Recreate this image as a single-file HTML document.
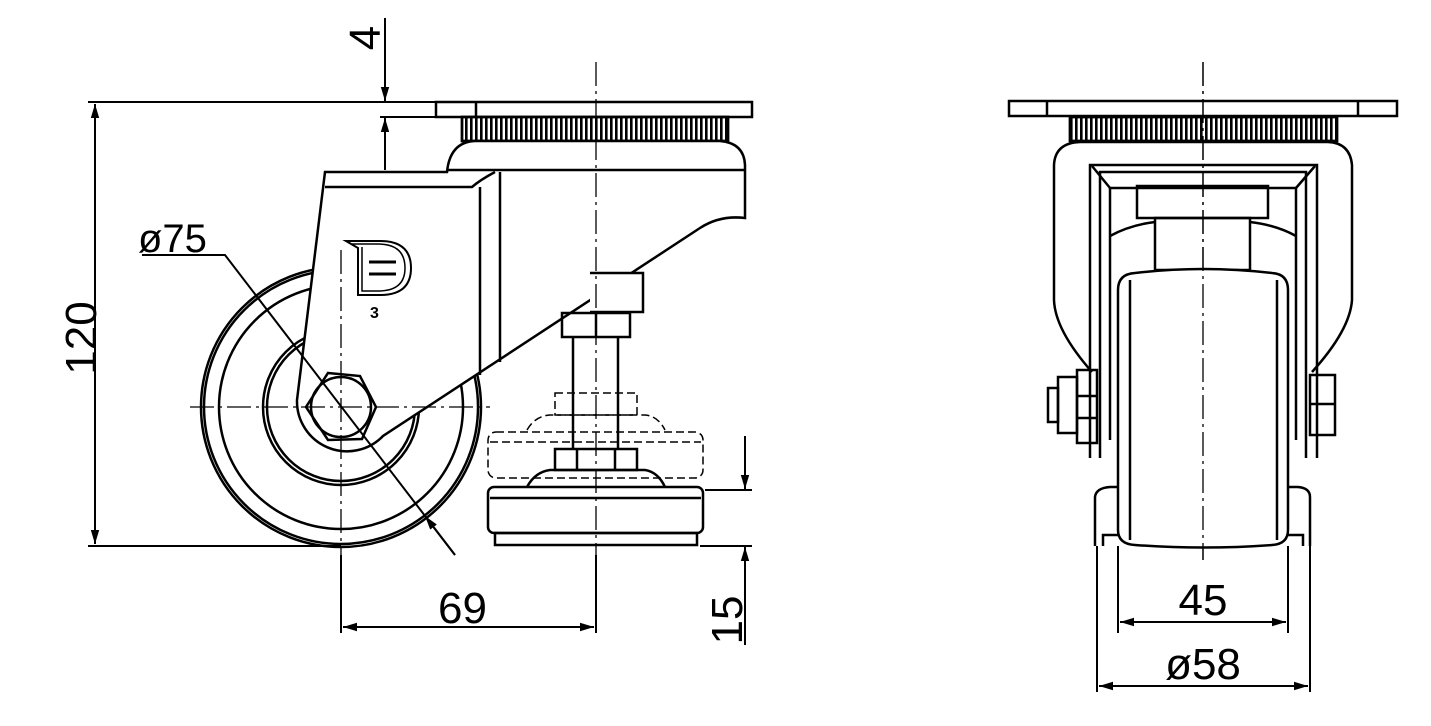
<!DOCTYPE html>
<html><head><meta charset="utf-8"><style>
html,body{margin:0;padding:0;background:#fff}
svg{display:block}
text{font-family:"Liberation Sans",sans-serif;font-size:44px;fill:#000}
</style></head><body>
<svg width="1431" height="726" viewBox="0 0 1431 726" xmlns="http://www.w3.org/2000/svg">
<defs>
<pattern id="kn" width="5" height="30" patternUnits="userSpaceOnUse"><rect width="5" height="30" fill="#fff"/><rect width="2.6" height="30" fill="#000"/></pattern>
<marker id="ar" viewBox="0 0 10 10" refX="10" refY="5" markerWidth="14" markerHeight="14" markerUnits="userSpaceOnUse" orient="auto-start-reverse"><path d="M0,2 L10,5 L0,8 z" fill="#000"/></marker>
</defs>
<g fill="none" stroke="#000" stroke-width="2.5">
<!-- LEFT VIEW -->
<rect x="436" y="102" width="316" height="15"/>
<line x1="476" y1="102" x2="476" y2="117"/>
<rect x="462" y="117" width="266" height="24" fill="url(#kn)"/>
<rect x="462" y="117" width="266" height="24"/>
<!-- wheel -->
<circle cx="341" cy="407" r="140"/>
<circle cx="341" cy="407" r="137"/>
<circle cx="341" cy="407" r="122"/>
<circle cx="341" cy="407" r="78"/>
<circle cx="341" cy="407" r="74"/>
<!-- body (fork + housing), white filled to cover wheel -->
<path fill="#fff" d="M325,172 L447,172 Q450,142 475,141 L720,141 Q744,143 745,165 L745,218 Q720,215 700,228 L383,436 A50,50 0 0 1 297,400 Z"/>
<line x1="447" y1="170" x2="745" y2="170"/>
<path d="M590,273 L643,273 L643,312 L590,312" fill="#fff"/>
<path d="M325,187 L472,187 Q480,180 495,172"/>
<line x1="480" y1="187" x2="480" y2="375"/>
<line x1="500" y1="172" x2="500" y2="362"/>
<circle cx="341" cy="407" r="30"/>
<polygon points="328,373 360,376 376,407 362,439 328,440 306,407" fill="none"/>
<!-- logo -->
<path d="M346,241 L380,241 Q411,241 411,268 Q411,295 380,295 L358,295 L358,248 Z" stroke-width="2"/>
<path d="M352,244 L378,244 Q405,244 405,268 Q405,291 378,291 L362,291 L362,247" stroke-width="1.5"/>
<path d="M369,262 L396,262 M369,274 L396,274" stroke-width="3"/>
<!-- leveling foot -->
<rect x="562" y="313" width="68" height="24"/>
<line x1="596" y1="313" x2="596" y2="337"/>
<line x1="573" y1="337" x2="573" y2="450"/>
<line x1="618" y1="337" x2="618" y2="450"/>
<rect x="555" y="449" width="82" height="21"/>
<line x1="577" y1="449" x2="577" y2="470"/><line x1="615" y1="449" x2="615" y2="470"/>
<path d="M527,487 Q535,472 550,470 L645,470 Q658,472 665,487"/>
<rect x="488" y="487" width="215" height="46" rx="6"/>
<line x1="490" y1="498" x2="701" y2="498"/>
<rect x="495" y="533" width="202" height="12"/>
<g stroke-width="1.5" stroke-dasharray="8,4">
<rect x="555" y="393" width="82" height="22"/>
<path d="M527,430 Q535,416 550,415 L645,415 Q658,416 665,430"/>
<rect x="488" y="432" width="215" height="46" rx="8"/>
<line x1="490" y1="442" x2="701" y2="442"/>
</g>
<!-- center lines -->
<g stroke-width="1.3" stroke-dasharray="24,5,3,5">
<line x1="596" y1="62" x2="596" y2="560"/>
<line x1="341" y1="250" x2="341" y2="560"/>
<line x1="190" y1="407" x2="490" y2="407"/>
<line x1="1203" y1="62" x2="1203" y2="560"/>
</g>
</g>
<text x="370" y="318" style="font-size:16px;font-weight:bold">3</text>
<g fill="none" stroke="#000" stroke-width="2">
<!-- dimensions left -->
<line x1="88" y1="102" x2="436" y2="102"/>
<line x1="88" y1="546" x2="341" y2="546"/>
<line x1="95" y1="104" x2="95" y2="544" marker-start="url(#ar)" marker-end="url(#ar)"/>
<line x1="380" y1="117" x2="440" y2="117"/>
<line x1="385" y1="18" x2="385" y2="101" marker-end="url(#ar)"/>
<line x1="385" y1="170" x2="385" y2="118" marker-end="url(#ar)"/>
<path d="M142,255 L225,255 L455,555"/>
<line x1="455" y1="555" x2="425" y2="516" marker-end="url(#ar)"/>
<line x1="341" y1="555" x2="341" y2="633"/>
<line x1="596" y1="555" x2="596" y2="633"/>
<line x1="343" y1="627" x2="594" y2="627" marker-start="url(#ar)" marker-end="url(#ar)"/>
<line x1="705" y1="490" x2="752" y2="490"/>
<line x1="700" y1="546" x2="752" y2="546"/>
<line x1="745" y1="436" x2="745" y2="489" marker-end="url(#ar)"/>
<line x1="745" y1="645" x2="745" y2="547" marker-end="url(#ar)"/>
</g>
<text x="138" y="252" style="font-size:40px">ø75</text>
<text x="438" y="623">69</text>
<text transform="translate(96,338) rotate(-90)" text-anchor="middle">120</text>
<text transform="translate(380,38) rotate(-90)" text-anchor="middle">4</text>
<text transform="translate(742,620) rotate(-90)" text-anchor="middle">15</text>
<!-- RIGHT VIEW -->
<g fill="none" stroke="#000" stroke-width="2.5">
<rect x="1009" y="101" width="388" height="15"/>
<line x1="1047" y1="101" x2="1047" y2="116"/><line x1="1358" y1="101" x2="1358" y2="116"/>
<rect x="1070" y="117" width="267" height="24" fill="url(#kn)"/>
<rect x="1070" y="117" width="267" height="24"/>
<path d="M1092,372 Q1055,330 1054,300 L1054,165 Q1055,143 1080,142 L1328,142 Q1350,143 1352,165 L1352,300 Q1350,330 1312,372"/>
<path d="M1090,458 L1090,165 L1317,165 L1317,458"/>
<path d="M1100,458 L1100,172 L1306,172 L1306,458"/>
<path d="M1110,440 L1110,188 L1296,188 L1296,440"/>
<path d="M1092,166 L1110,188 M1315,166 L1296,188"/>
<rect x="1137" y="186" width="131" height="32"/>
<rect x="1155" y="218" width="95" height="52"/>
<path d="M1110,236 Q1130,225 1155,222 M1296,236 Q1276,225 1250,222"/>
<path fill="#fff" d="M1118,290 Q1118,274 1135,273 Q1203,265 1272,273 Q1288,274 1288,290 L1288,530 Q1288,544 1272,545 Q1203,550 1135,545 Q1118,544 1118,530 Z"/>
<line x1="1130" y1="280" x2="1130" y2="540"/><line x1="1277" y1="280" x2="1277" y2="540"/>
<rect x="1077" y="370" width="20" height="73"/>
<line x1="1077" y1="396" x2="1097" y2="396"/><line x1="1077" y1="418" x2="1097" y2="418"/>
<rect x="1058" y="377" width="19" height="56"/>
<rect x="1048" y="388" width="10" height="34"/>
<rect x="1310" y="375" width="25" height="60"/>
<line x1="1310" y1="404" x2="1335" y2="404"/>
<path d="M1095,546 L1095,497 Q1096,488 1110,487 L1118,487 M1288,487 L1298,487 Q1310,488 1310,497 L1310,546"/>
<path d="M1103,546 L1103,535 L1118,535 M1288,535 L1303,535 L1303,546"/>
<line x1="1203" y1="62" x2="1203" y2="560" stroke-width="1.3" stroke-dasharray="24,5,3,5"/>
</g>
<g fill="none" stroke="#000" stroke-width="2">
<line x1="1118" y1="546" x2="1118" y2="633"/>
<line x1="1288" y1="546" x2="1288" y2="633"/>
<line x1="1120" y1="622" x2="1286" y2="622" marker-start="url(#ar)" marker-end="url(#ar)"/>
<line x1="1097" y1="546" x2="1097" y2="692"/>
<line x1="1310" y1="546" x2="1310" y2="692"/>
<line x1="1099" y1="686" x2="1308" y2="686" marker-start="url(#ar)" marker-end="url(#ar)"/>
</g>
<text x="1203" y="615" text-anchor="middle">45</text>
<text x="1203" y="679" text-anchor="middle">ø58</text>
</svg>
</body></html>
